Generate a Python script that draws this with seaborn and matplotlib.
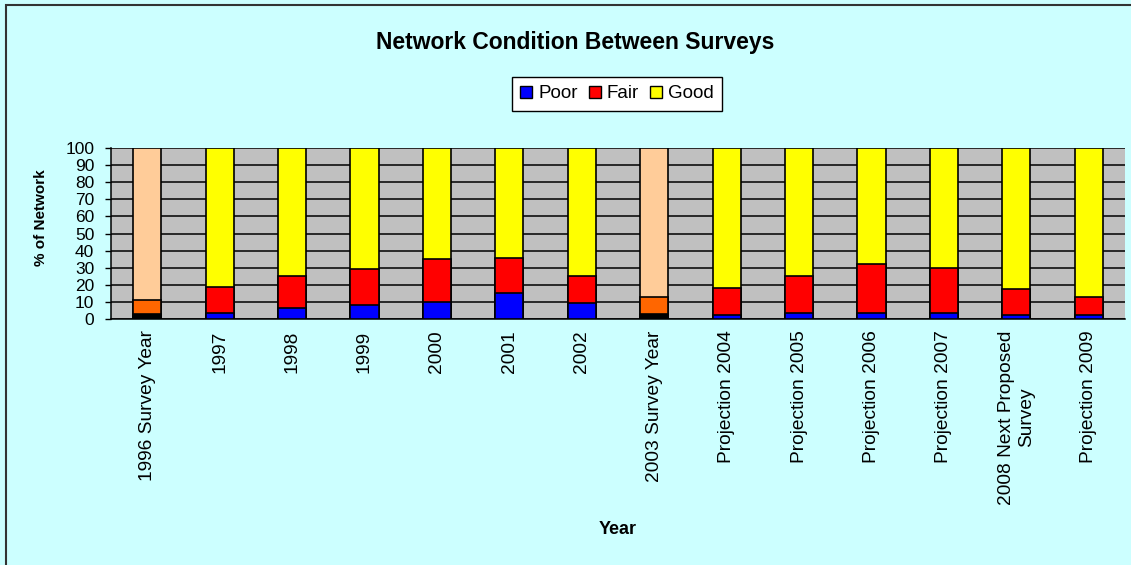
import matplotlib
matplotlib.use("Agg")
import matplotlib.pyplot as plt
import seaborn as sns
import numpy as np
from matplotlib.patches import Patch, Rectangle

categories = ["1996 Survey Year", "1997", "1998", "1999", "2000", "2001", "2002",
              "2003 Survey Year", "Projection 2004", "Projection 2005", "Projection 2006",
              "Projection 2007", "2008 Next Proposed\nSurvey", "Projection 2009"]
poor = [3.0, 3.5, 6.5, 8.3, 10.0, 15.5, 9.3, 3.0, 2.7, 3.7, 3.7, 3.7, 2.7, 2.7]
fair = [8.0, 15.5, 18.5, 21.2, 25.0, 20.5, 15.7, 10.2, 15.7, 21.3, 28.3, 26.3, 14.8, 10.3]
good = [89.0, 81.0, 75.0, 70.5, 65.0, 64.0, 75.0, 86.8, 81.6, 75.0, 68.0, 70.0, 82.5, 87.0]
survey_years = ["1996 Survey Year", "2003 Survey Year"]
yticks = list(range(0, 101, 10))

C_POOR, C_FAIR, C_GOOD = "#0000FF", "#FF0000", "#FFFF00"
S_POOR, S_FAIR, S_GOOD = "#000000", "#FF6600", "#FFCC99"

sns.set_theme(style="white")
plt.rcParams['font.family'] = ['Liberation Sans', 'DejaVu Sans']
plt.rcParams['text.color'] = 'black'
plt.rcParams['xtick.color'] = 'black'
plt.rcParams['ytick.color'] = 'black'
plt.rcParams['axes.labelcolor'] = 'black'

fig = plt.figure(figsize=(11.31, 5.65), dpi=100)
fig.patch.set_facecolor("#CCFFFF")
fig.patches.append(Rectangle((6/1131, -0.1), 1.2, (1 - 5/565) + 0.1,
                             transform=fig.transFigure, fill=False,
                             edgecolor="#333333", linewidth=1.5))

ax = fig.add_axes([111/1131, 1 - 319.3/565, (1125 - 111)/1131, (319.3 - 147.7)/565])
ax.set_facecolor("#C0C0C0")

p = np.array(poor)
f = np.array(fair)
g = np.array(good)
layers = [
    (p + f + g, C_GOOD, S_GOOD),
    (p + f, C_FAIR, S_FAIR),
    (p, C_POOR, S_POOR),
]
for vals, col, scol in layers:
    pal = {c: (scol if c in survey_years else col) for c in categories}
    sns.barplot(x=categories, y=vals, hue=categories, palette=pal, order=categories,
                hue_order=categories, legend=False, width=0.39, saturation=1,
                edgecolor="black", linewidth=1.2, ax=ax, zorder=3)

ax.set_xlim(-0.5, len(categories) - 0.5)
ax.set_ylim(0, 100)
ax.set_yticks(yticks)
ax.set_yticklabels([str(v) for v in yticks], fontsize=12.5)
ax.set_axisbelow(True)
ax.yaxis.grid(True, color="black", linewidth=1.1, zorder=0)
ax.xaxis.grid(False)

for s in ["top", "right"]:
    ax.spines[s].set_visible(False)
for s in ["left", "bottom"]:
    ax.spines[s].set_color("black")
    ax.spines[s].set_linewidth(1.1)

ax.set_xticks(range(len(categories)))
ax.set_xticklabels(categories, rotation=90, fontsize=13.8, ha="center", va="top",
                   multialignment="center")
ax.set_xticks(np.arange(-0.5, len(categories), 1.0), minor=True)
ax.tick_params(axis="x", which="major", length=0, pad=8)
ax.tick_params(axis="x", which="minor", length=4.5, width=1, color="black", direction="out")
ax.tick_params(axis="y", which="major", length=4.5, width=1, color="black", direction="out",
               left=True, pad=7.5)
ax.set_xlabel("")
ax.set_ylabel("")

fig.text(575/1131, 1 - 42/565, "Network Condition Between Surveys", ha="center",
         va="center", fontsize=16.5, fontweight="bold")
fig.text(41/1131, 1 - 218/565, "% of Network", ha="center", va="center",
         rotation=90, fontsize=11, fontweight="bold")
fig.text(618/1131, 1 - 530/565, "Year", ha="center", va="center",
         fontsize=13, fontweight="bold")

handles = [Patch(facecolor=C_POOR, edgecolor="black", label="Poor"),
           Patch(facecolor=C_FAIR, edgecolor="black", label="Fair"),
           Patch(facecolor=C_GOOD, edgecolor="black", label="Good")]
leg = fig.legend(handles=handles, loc="center", bbox_to_anchor=(617/1131, 1 - 94/565),
                 ncol=3, fontsize=13.5, frameon=True, fancybox=False, handlelength=0.65,
                 handleheight=0.65, handletextpad=0.3, columnspacing=0.6,
                 borderpad=0.45, borderaxespad=0)
leg.get_frame().set_edgecolor("black")
leg.get_frame().set_linewidth(1)
leg.get_frame().set_facecolor("white")
leg.get_frame().set_alpha(1)

fig.savefig("out.png", dpi=100, facecolor=fig.get_facecolor())
